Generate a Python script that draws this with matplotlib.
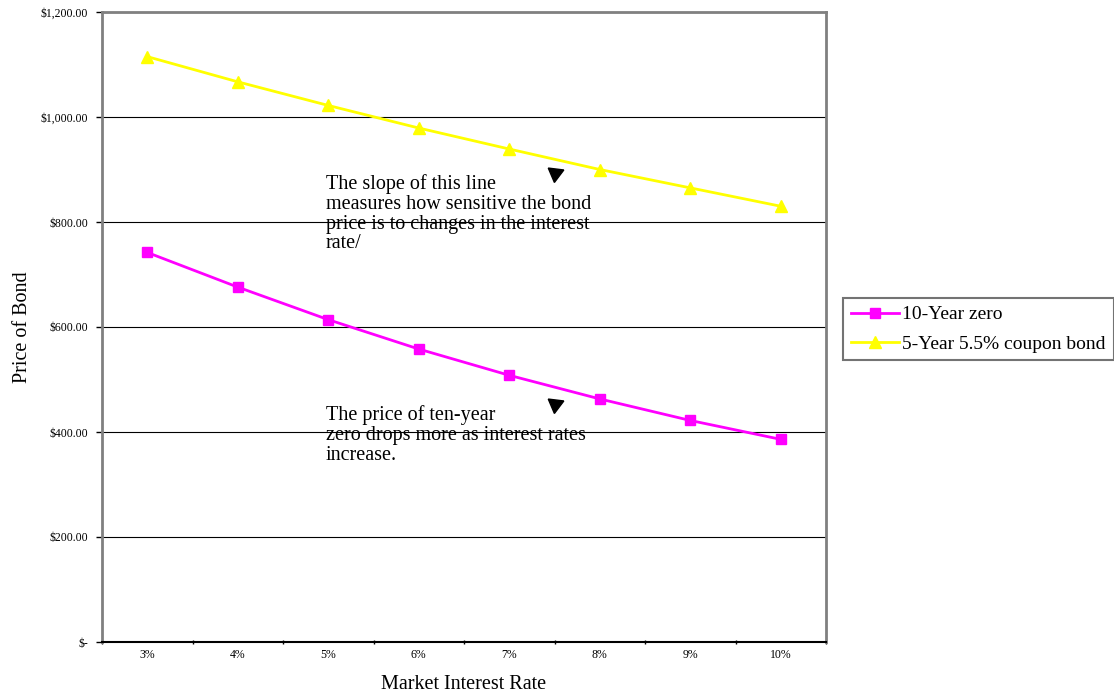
import matplotlib
matplotlib.use("Agg")
import matplotlib.pyplot as plt
from matplotlib.ticker import FuncFormatter, FixedLocator

plt.rcParams['font.family'] = ['Liberation Serif', 'DejaVu Serif']

rates = ['3%', '4%', '5%', '6%', '7%', '8%', '9%', '10%']
zero_10yr = [742, 676, 614, 558, 508, 463, 422, 386]
coupon_5yr = [1115, 1067, 1022, 979, 939, 900, 865, 830]

fig = plt.figure(figsize=(11.14, 6.94), dpi=100)
ax = fig.add_axes([102/1114, 1 - 642/694, (826-102)/1114, (642-12)/694])

x = list(range(len(rates)))
ax.plot(x, zero_10yr, color='#ff00ff', lw=2, marker='s', ms=7,
        markeredgecolor='#ff00ff', label='10-Year zero', zorder=3)
ax.plot(x, coupon_5yr, color='#ffff00', lw=2, marker='^', ms=9,
        markeredgecolor='#ffff00', label='5-Year 5.5% coupon bond', zorder=3)

ax.set_xlim(-0.5, len(rates) - 0.5)
ax.set_ylim(0, 1200)
ax.set_xticks(x)
ax.set_xticklabels(rates, fontsize=8.5)
ax.xaxis.set_minor_locator(FixedLocator([i - 0.5 for i in range(len(rates) + 1)]))
ax.tick_params(axis='x', which='major', length=0, pad=5)
ax.tick_params(axis='x', which='minor', length=3, width=1, direction='inout', color='black')

ax.set_yticks(range(0, 1201, 200))
ax.yaxis.set_major_formatter(FuncFormatter(lambda v, p: '$-' if v == 0 else f'${v:,.2f}'))
ax.tick_params(axis='y', labelsize=8.5, length=4, width=1, color='black', pad=6)

ax.yaxis.grid(True, color='black', lw=0.8)
ax.set_axisbelow(True)
for s in ['left', 'top', 'right']:
    ax.spines[s].set_color('#808080')
    ax.spines[s].set_linewidth(2)
ax.spines['bottom'].set_color('black')
ax.spines['bottom'].set_linewidth(1.5)

ax.set_ylabel('Price of Bond', fontsize=14.5, labelpad=6)
ax.set_xlabel('Market Interest Rate', fontsize=14.5, labelpad=10)

ax.text(1.97, 891, 'The slope of this line\nmeasures how sensitive the bond\nprice is to changes in the interest\nrate/',
        fontsize=14.5, va='top', ha='left', linespacing=1.05, zorder=4)
ax.text(1.97, 451, 'The price of ten-year\nzero drops more as interest rates\nincrease.',
        fontsize=14.5, va='top', ha='left', linespacing=1.05, zorder=4)

# arrowheads of the annotations
ax.plot([4.50], [893], marker=(3, 0, 173), ms=13, color='black', zorder=4)
ax.plot([4.50], [453], marker=(3, 0, 173), ms=13, color='black', zorder=4)

leg = fig.legend(loc='upper left', bbox_to_anchor=(843/1114, 1 - 298/694), fontsize=14,
                 frameon=True, fancybox=False, edgecolor='#505050', borderpad=0.4,
                 handlelength=2.5, handletextpad=0.15, labelspacing=0.6, borderaxespad=0)
leg.get_frame().set_linewidth(1.5)

fig.savefig('out.png', dpi=100)
